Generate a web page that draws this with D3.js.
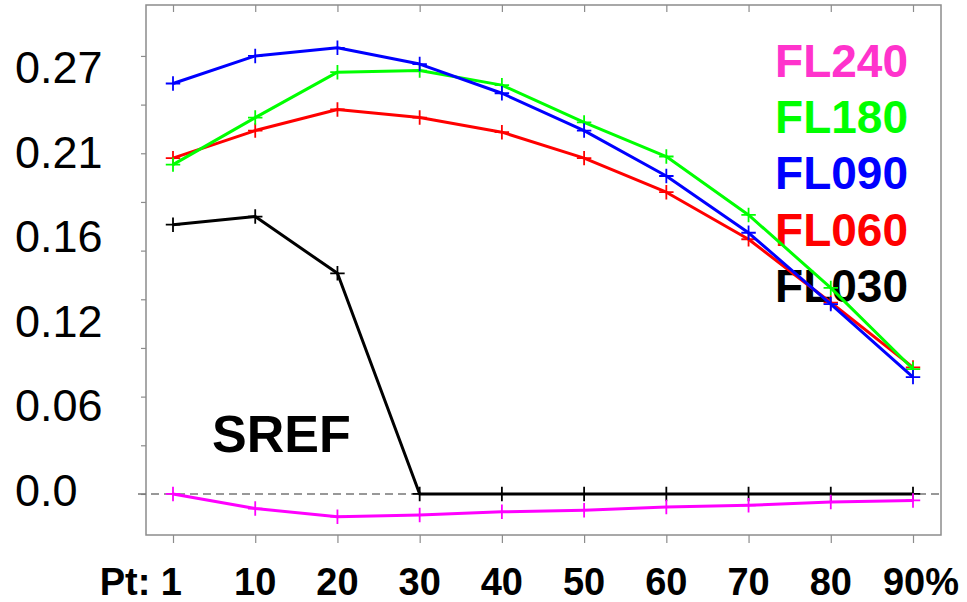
<!DOCTYPE html>
<html>
<head>
<meta charset="utf-8">
<script src="https://cdn.jsdelivr.net/npm/d3@7"></script>
<style>
  body { margin: 0; background: #fff; }
  text { font-family: "Liberation Sans", Arial, sans-serif; }
</style>
</head>
<body>
<div id="chart"></div>
<script>
const width = 967;
const height = 602;

// percentile points along the x axis
const points = ["1", "10", "20", "30", "40", "50", "60", "70", "80", "90"];
const xLabels = ["Pt: 1", "10", "20", "30", "40", "50", "60", "70", "80", "90%"];

// tick marks every 0.03, but the printed labels are spread evenly
const yTicks = [0, 0.03, 0.06, 0.09, 0.12, 0.15, 0.18, 0.21, 0.24, 0.27];
const yLabels = ["0.0", "0.06", "0.12", "0.16", "0.21", "0.27"];

// series values, one per point
const fl030 = [0.166, 0.171, 0.136, 0, 0, 0, 0, 0, 0, 0];
const fl060 = [0.207, 0.224, 0.237, 0.232, 0.223, 0.207, 0.186, 0.157, 0.118, 0.078];
const fl180 = [0.203, 0.232, 0.260, 0.261, 0.252, 0.229, 0.208, 0.172, 0.127, 0.077];
const fl090 = [0.253, 0.270, 0.275, 0.265, 0.247, 0.224, 0.196, 0.161, 0.117, 0.072];
const fl240 = [0.000, -0.009, -0.014, -0.013, -0.011, -0.010, -0.008, -0.007, -0.005, -0.004];

const series = [
  { name: "FL030", values: fl030, color: "#000000", label: "#000000" },
  { name: "FL060", values: fl060, color: "#ff0000", label: "#ff0000" },
  { name: "FL180", values: fl180, color: "#00ff00", label: "#00ff00" },
  { name: "FL090", values: fl090, color: "#0000ff", label: "#0000ff" },
  { name: "FL240", values: fl240, color: "#ff00ff", label: "#ff33cc" }
];
const legendOrder = ["FL240", "FL180", "FL090", "FL060", "FL030"];

const frame = { left: 146, top: 5, right: 941, bottom: 535 };

const svg = d3.select("#chart")
  .append("svg")
  .attr("width", width)
  .attr("height", height);

const x = d3.scalePoint()
  .domain(points)
  .range([173, 913]);

const y = d3.scaleLinear()
  .domain([-0.0253, 0.3014])
  .range([frame.bottom, frame.top]);

// label baselines, evenly spaced down the left side
const yLab = d3.scalePoint()
  .domain(yLabels)
  .range([506, 83]);

// frame
svg.append("rect")
  .attr("x", frame.left)
  .attr("y", frame.top)
  .attr("width", frame.right - frame.left)
  .attr("height", frame.bottom - frame.top)
  .attr("fill", "none")
  .attr("stroke", "#8c8c8c")
  .attr("stroke-width", 1.5);

// bottom ticks (outward) and top ticks (inward)
svg.append("g")
  .attr("transform", `translate(0,${frame.bottom})`)
  .call(d3.axisBottom(x).tickSize(8).tickFormat(""))
  .call(g => g.select(".domain").remove())
  .call(g => g.selectAll("line").attr("stroke", "#8c8c8c").attr("stroke-width", 1.2));

svg.append("g")
  .attr("transform", `translate(0,${frame.top})`)
  .call(d3.axisBottom(x).tickSize(7).tickFormat(""))
  .call(g => g.select(".domain").remove())
  .call(g => g.selectAll("line").attr("stroke", "#8c8c8c").attr("stroke-width", 1.2));

// left ticks
svg.append("g")
  .attr("transform", `translate(${frame.left},0)`)
  .call(d3.axisLeft(y).tickValues(yTicks).tickSize(5).tickFormat(""))
  .call(g => g.select(".domain").remove())
  .call(g => g.selectAll("line").attr("stroke", "#8c8c8c").attr("stroke-width", 1.2));

// y labels
svg.append("g")
  .selectAll("text")
  .data(yLabels)
  .join("text")
  .attr("x", 15)
  .attr("y", d => yLab(d))
  .attr("font-size", 45)
  .attr("fill", "#000")
  .text(d => d);

// x labels
svg.append("g")
  .selectAll("text")
  .data(points)
  .join("text")
  .attr("x", (d, i) => i === 0 ? x(d) + 9 : (i === points.length - 1 ? x(d) + 8 : x(d)))
  .attr("y", 595)
  .attr("text-anchor", (d, i) => i === 0 ? "end" : "middle")
  .attr("font-size", 38)
  .attr("font-weight", "bold")
  .text((d, i) => xLabels[i]);

// zero reference line
svg.append("line")
  .attr("x1", frame.left - 8)
  .attr("x2", frame.right)
  .attr("y1", y(0))
  .attr("y2", y(0))
  .attr("stroke", "#777")
  .attr("stroke-width", 1.5)
  .attr("stroke-dasharray", "8,5");

// title
svg.append("text")
  .attr("x", 212)
  .attr("y", 452)
  .attr("font-size", 52)
  .attr("font-weight", "bold")
  .text("SREF");

// legend text, drawn under the lines
svg.append("g")
  .selectAll("text")
  .data(legendOrder)
  .join("text")
  .attr("x", 908)
  .attr("y", (d, i) => 77 + i * 56.2)
  .attr("text-anchor", "end")
  .attr("font-size", 46)
  .attr("font-weight", "bold")
  .attr("fill", d => series.find(s => s.name === d).label)
  .text(d => d);

const line = d3.line()
  .x((d, i) => x(points[i]))
  .y(d => y(d));

const lines = svg.append("g");

series.forEach(s => {
  const g = lines.append("g");

  g.append("path")
    .datum(s.values)
    .attr("d", line)
    .attr("fill", "none")
    .attr("stroke", s.color)
    .attr("stroke-width", 3)
    .attr("stroke-linejoin", "round");

  // plus markers
  g.selectAll("path.mark")
    .data(s.values)
    .join("path")
    .attr("class", "mark")
    .attr("d", d3.symbol(d3.symbolPlus, 70))
    .attr("transform", (d, i) => `translate(${x(points[i])},${y(d)})`)
    .attr("fill", "none")
    .attr("stroke", s.color)
    .attr("stroke-width", 1.8);
});
</script>
</body>
</html>
